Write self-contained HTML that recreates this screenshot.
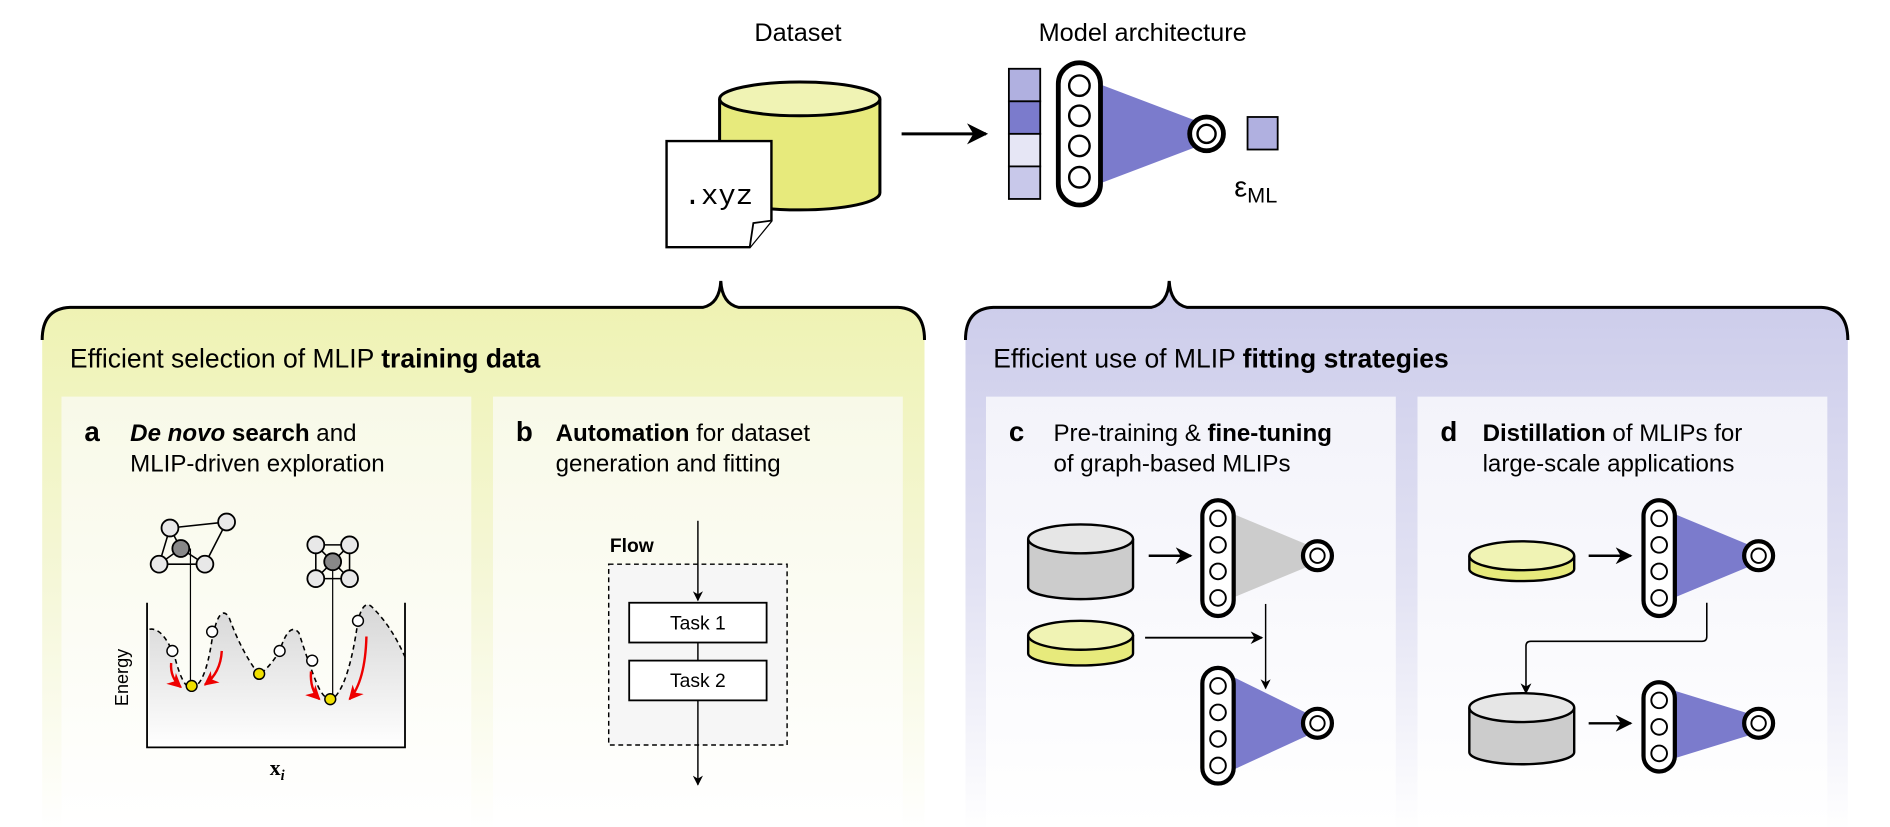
<!DOCTYPE html>
<html><head><meta charset="utf-8"><style>
html,body{margin:0;padding:0;background:#fff;}
svg{display:block;font-family:"Liberation Sans",Arial,sans-serif;}
</style></head><body>
<svg width="1890" height="827" viewBox="0 0 1568 686" xmlns="http://www.w3.org/2000/svg">
<defs>
<linearGradient id="gy" x1="0" y1="0" x2="0" y2="1"><stop offset="0" stop-color="#eef2b0"/><stop offset="0.55" stop-color="#f5f7d8"/><stop offset="1" stop-color="#ffffff"/></linearGradient>
<linearGradient id="gb" x1="0" y1="0" x2="0" y2="1"><stop offset="0" stop-color="#cbcbea"/><stop offset="0.55" stop-color="#e2e2f3"/><stop offset="1" stop-color="#ffffff"/></linearGradient>
<linearGradient id="iy" x1="0" y1="0" x2="0" y2="1"><stop offset="0" stop-color="#f8f9e8"/><stop offset="1" stop-color="#ffffff"/></linearGradient>
<linearGradient id="ib" x1="0" y1="0" x2="0" y2="1"><stop offset="0" stop-color="#f3f3fa"/><stop offset="1" stop-color="#ffffff"/></linearGradient>
<linearGradient id="eg" x1="0" y1="0" x2="0" y2="1"><stop offset="0" stop-color="#d6d6d6"/><stop offset="1" stop-color="#ffffff"/></linearGradient>
<marker id="ah" viewBox="0 0 10 10" refX="9" refY="5" markerWidth="7" markerHeight="7" orient="auto"><path d="M0,0 L10,5 L0,10 L3,5 z" fill="#000"/></marker>
<marker id="ahr" viewBox="0 0 10 10" refX="9" refY="5" markerWidth="6" markerHeight="6" orient="auto"><path d="M0,0 L10,5 L0,10 L3,5 z" fill="#e00"/></marker>
<g id="pill4"><rect x="-13" y="-48" width="26" height="96" rx="13" fill="#fff" stroke="#000" stroke-width="3.5"/><g fill="#fff" stroke="#000" stroke-width="1.6"><circle cx="0" cy="-33" r="6.5"/><circle cx="0" cy="-11" r="6.5"/><circle cx="0" cy="11" r="6.5"/><circle cx="0" cy="33" r="6.5"/></g></g>
<g id="ring"><circle r="12" fill="#fff" stroke="#000" stroke-width="3.5"/><circle r="6" fill="#fff" stroke="#000" stroke-width="1.6"/></g>
</defs>

<!-- header -->
<text x="662" y="34" font-size="21" text-anchor="middle">Dataset</text>
<text x="948" y="34" font-size="21" text-anchor="middle">Model architecture</text>

<!-- cylinder -->
<path d="M597,82 L597,160 A66,14 0 0 0 730,160 L730,82" fill="#e7ea7c" stroke="#000" stroke-width="2.5"/>
<ellipse cx="663.5" cy="82" rx="66.5" ry="14" fill="#f0f3b4" stroke="#000" stroke-width="2.5"/>
<!-- doc -->
<path d="M553,117 L640,117 L640,183 L622,205 L553,205 z" fill="#fff" stroke="#000" stroke-width="2"/>
<path d="M640,183 L625,185 L622,205" fill="#fff" stroke="#000" stroke-width="1.5"/>
<text x="596" y="169" font-size="24" font-family="Liberation Mono,monospace" text-anchor="middle">.xyz</text>
<!-- arrow -->
<line x1="748" y1="111" x2="818" y2="111" stroke="#000" stroke-width="2.5" marker-end="url(#ah)"/>
<!-- bar -->
<rect x="837" y="57" width="26" height="27" fill="#b0b0e0" stroke="#000" stroke-width="1.5"/>
<rect x="837" y="84" width="26" height="27" fill="#7b7bcc" stroke="#000" stroke-width="1.5"/>
<rect x="837" y="111" width="26" height="27" fill="#e6e6f5" stroke="#000" stroke-width="1.5"/>
<rect x="837" y="138" width="26" height="27" fill="#c8c8ea" stroke="#000" stroke-width="1.5"/>
<polygon points="913,70 992,100 992,122 913,152" fill="#7b7bcc"/>
<rect x="878" y="52" width="35" height="118" rx="17.5" fill="#fff" stroke="#000" stroke-width="4"/>
<g fill="#fff" stroke="#000" stroke-width="2"><circle cx="895.5" cy="71" r="8.5"/><circle cx="895.5" cy="96" r="8.5"/><circle cx="895.5" cy="121" r="8.5"/><circle cx="895.5" cy="147" r="8.5"/></g>
<circle cx="1001" cy="111" r="14" fill="#fff" stroke="#000" stroke-width="4"/>
<circle cx="1001" cy="111" r="7.5" fill="#fff" stroke="#000" stroke-width="2"/>
<rect x="1035" y="97" width="25" height="27" fill="#b0b0e0" stroke="#000" stroke-width="1.5"/>
<text x="1024" y="163" font-size="24">ε<tspan font-size="18" dy="5">ML</tspan></text>

<!-- big panels -->
<path d="M35,690 L35,282 Q35,256 58,255 L583,255 Q597,252 598,233 Q599,252 613,255 L745,255 Q767,256 767,282 L767,690 z" fill="url(#gy)"/>
<path d="M35,282 Q35,256 58,255 L583,255 Q597,252 598,233 Q599,252 613,255 L745,255 Q767,256 767,282" fill="none" stroke="#000" stroke-width="2.5"/>
<path d="M801,690 L801,282 Q801,256 824,255 L955,255 Q969,252 970,233 Q971,252 985,255 L1511,255 Q1533,256 1533,282 L1533,690 z" fill="url(#gb)"/>
<path d="M801,282 Q801,256 824,255 L955,255 Q969,252 970,233 Q971,252 985,255 L1511,255 Q1533,256 1533,282" fill="none" stroke="#000" stroke-width="2.5"/>
<text x="58" y="305" font-size="22">Efficient selection of MLIP <tspan font-weight="bold">training data</tspan></text>
<text x="824" y="305" font-size="22">Efficient use of MLIP <tspan font-weight="bold">fitting strategies</tspan></text>

<rect x="51" y="329" width="340" height="357" fill="url(#iy)"/>
<rect x="409" y="329" width="340" height="357" fill="url(#iy)"/>
<rect x="818" y="329" width="340" height="357" fill="url(#ib)"/>
<rect x="1176" y="329" width="340" height="357" fill="url(#ib)"/>

<g font-size="20">
<text x="70" y="366" font-weight="bold" font-size="23">a</text>
<text x="108" y="366"><tspan font-weight="bold" font-style="italic">De novo</tspan><tspan font-weight="bold"> search</tspan> and</text>
<text x="108" y="391">MLIP-driven exploration</text>
<text x="428" y="366" font-weight="bold" font-size="23">b</text>
<text x="461" y="366"><tspan font-weight="bold">Automation</tspan> for dataset</text>
<text x="461" y="391">generation and fitting</text>
<text x="837" y="366" font-weight="bold" font-size="23">c</text>
<text x="874" y="366">Pre-training &amp; <tspan font-weight="bold">fine-tuning</tspan></text>
<text x="874" y="391">of graph-based MLIPs</text>
<text x="1195" y="366" font-weight="bold" font-size="23">d</text>
<text x="1230" y="366"><tspan font-weight="bold">Distillation</tspan> of MLIPs for</text>
<text x="1230" y="391">large-scale applications</text>
</g>

<!-- panel a -->
<path d="M124,522 Q135,520 145,545 Q152,572 159,570 Q170,570 176,530 Q182,500 190,512 Q200,540 215,560 Q225,552 232,540 Q240,515 248,525 Q256,550 262,565 Q270,585 278,578 Q290,565 297,515 Q302,495 310,505 Q325,520 336,545 L336,620 L124,620 z" fill="url(#eg)"/>
<path d="M124,522 Q135,520 145,545 Q152,572 159,570 Q170,570 176,530 Q182,500 190,512 Q200,540 215,560 Q225,552 232,540 Q240,515 248,525 Q256,550 262,565 Q270,585 278,578 Q290,565 297,515 Q302,495 310,505 Q325,520 336,545" fill="none" stroke="#000" stroke-width="1.3" stroke-dasharray="4,3"/>
<path d="M122,500 L122,620 L336,620 L336,500" fill="none" stroke="#000" stroke-width="1.5"/>
<text x="106" y="562" font-size="15" transform="rotate(-90 106 562)" text-anchor="middle">Energy</text>
<text x="230" y="643" font-size="18" font-family="Liberation Serif,serif" font-weight="bold" text-anchor="middle">x<tspan font-size="12" font-style="italic" dy="4">i</tspan></text>
<line x1="158" y1="455" x2="158" y2="566" stroke="#000" stroke-width="1"/>
<line x1="276" y1="466" x2="276" y2="576" stroke="#000" stroke-width="1"/>
<g stroke="#000" stroke-width="1.3" fill="none">
<path d="M141,438 L188,433 L170,468 L132,468 z M141,438 L150,455 L170,468 M132,468 L150,455"/>
<path d="M262,452 L290,452 L290,480 L262,480 z M262,452 L276,466 L290,480 M290,452 L276,466 L262,480"/>
</g>
<g fill="#e8e8e8" stroke="#000" stroke-width="1.5">
<circle cx="141" cy="438" r="7"/><circle cx="188" cy="433" r="7"/><circle cx="132" cy="468" r="7"/><circle cx="170" cy="468" r="7"/>
<circle cx="262" cy="452" r="7"/><circle cx="290" cy="452" r="7"/><circle cx="262" cy="480" r="7"/><circle cx="290" cy="480" r="7"/>
</g>
<circle cx="150" cy="455" r="7" fill="#888" stroke="#000" stroke-width="1.5"/>
<circle cx="276" cy="466" r="7" fill="#888" stroke="#000" stroke-width="1.5"/>
<g fill="#fff" stroke="#000" stroke-width="1.2">
<circle cx="143" cy="540" r="4.5"/><circle cx="176" cy="524" r="4.5"/><circle cx="232" cy="540" r="4.5"/><circle cx="259" cy="548" r="4.5"/><circle cx="297" cy="515" r="4.5"/>
</g>
<g fill="#f0e000" stroke="#000" stroke-width="1.2">
<circle cx="159" cy="569" r="4.5"/><circle cx="215" cy="559" r="4.5"/><circle cx="274" cy="580" r="4.5"/>
</g>
<g stroke="#e00" stroke-width="2" fill="none" marker-end="url(#ahr)">
<path d="M142,550 Q141,562 150,570"/>
<path d="M184,540 Q183,558 170,568"/>
<path d="M258,557 Q257,572 265,580"/>
<path d="M304,528 Q303,565 290,580"/>
</g>

<!-- panel b -->
<rect x="505" y="468" width="148" height="150" fill="#f6f6f6" stroke="#000" stroke-width="1.2" stroke-dasharray="4,3"/>
<text x="506" y="458" font-size="16" font-weight="bold">Flow</text>
<line x1="579" y1="432" x2="579" y2="498" stroke="#000" stroke-width="1.2" marker-end="url(#ah)"/>
<line x1="579" y1="533" x2="579" y2="548" stroke="#000" stroke-width="1.2"/>
<line x1="579" y1="580" x2="579" y2="651" stroke="#000" stroke-width="1.2" marker-end="url(#ah)"/>
<rect x="522" y="500" width="114" height="33" fill="#fff" stroke="#000" stroke-width="1.5"/>
<rect x="522" y="548" width="114" height="33" fill="#fff" stroke="#000" stroke-width="1.5"/>
<text x="579" y="522" font-size="16" text-anchor="middle">Task 1</text>
<text x="579" y="570" font-size="16" text-anchor="middle">Task 2</text>

<!-- panel c -->
<path d="M853,447 L853,487 A43.5,10 0 0 0 940,487 L940,447" fill="#cccccc" stroke="#000" stroke-width="2"/>
<ellipse cx="896.5" cy="447" rx="43.5" ry="12" fill="#e6e6e6" stroke="#000" stroke-width="2"/>
<line x1="953" y1="461" x2="988" y2="461" stroke="#000" stroke-width="2" marker-end="url(#ah)"/>
<polygon points="1020,425 1085,452 1085,470 1020,497" fill="#cccccc"/>
<use href="#pill4" x="1010.5" y="463"/>
<use href="#ring" x="1093" y="461"/>
<path d="M853,527 L853,542 A43.5,10 0 0 0 940,542 L940,527" fill="#e7ea7c" stroke="#000" stroke-width="2"/>
<ellipse cx="896.5" cy="527" rx="43.5" ry="12" fill="#f0f3b4" stroke="#000" stroke-width="2"/>
<line x1="950" y1="529" x2="1047" y2="529" stroke="#000" stroke-width="1.5" marker-end="url(#ah)"/>
<line x1="1050" y1="501" x2="1050" y2="571" stroke="#000" stroke-width="1.2" marker-end="url(#ah)"/>
<polygon points="1020,560 1085,592 1085,610 1020,640" fill="#7b7bcc"/>
<use href="#pill4" x="1010.5" y="602"/>
<use href="#ring" x="1093" y="600"/>

<!-- panel d -->
<path d="M1219,461 L1219,472 A43.5,10 0 0 0 1306,472 L1306,461" fill="#e7ea7c" stroke="#000" stroke-width="2"/>
<ellipse cx="1262.5" cy="461" rx="43.5" ry="12" fill="#f0f3b4" stroke="#000" stroke-width="2"/>
<line x1="1318" y1="461" x2="1353" y2="461" stroke="#000" stroke-width="2" marker-end="url(#ah)"/>
<polygon points="1386,425 1451,452 1451,470 1386,497" fill="#7b7bcc"/>
<use href="#pill4" x="1376.5" y="463"/>
<use href="#ring" x="1459" y="461"/>
<path d="M1416,500 L1416,528 Q1416,532 1412,532 L1270,532 Q1266,532 1266,536 L1266,575" fill="none" stroke="#000" stroke-width="1.3" marker-end="url(#ah)"/>
<path d="M1219,587 L1219,624 A43.5,10 0 0 0 1306,624 L1306,587" fill="#cccccc" stroke="#000" stroke-width="2"/>
<ellipse cx="1262.5" cy="587" rx="43.5" ry="12" fill="#e6e6e6" stroke="#000" stroke-width="2"/>
<line x1="1318" y1="600" x2="1353" y2="600" stroke="#000" stroke-width="2" marker-end="url(#ah)"/>
<polygon points="1386,572 1451,592 1451,610 1386,630" fill="#7b7bcc"/>
<rect x="1363.5" y="566" width="26" height="74" rx="13" fill="#fff" stroke="#000" stroke-width="3.5"/>
<g fill="#fff" stroke="#000" stroke-width="1.6"><circle cx="1376.5" cy="581" r="6.5"/><circle cx="1376.5" cy="603" r="6.5"/><circle cx="1376.5" cy="625" r="6.5"/></g>
<use href="#ring" x="1459" y="600"/>
</svg>
</body></html>
